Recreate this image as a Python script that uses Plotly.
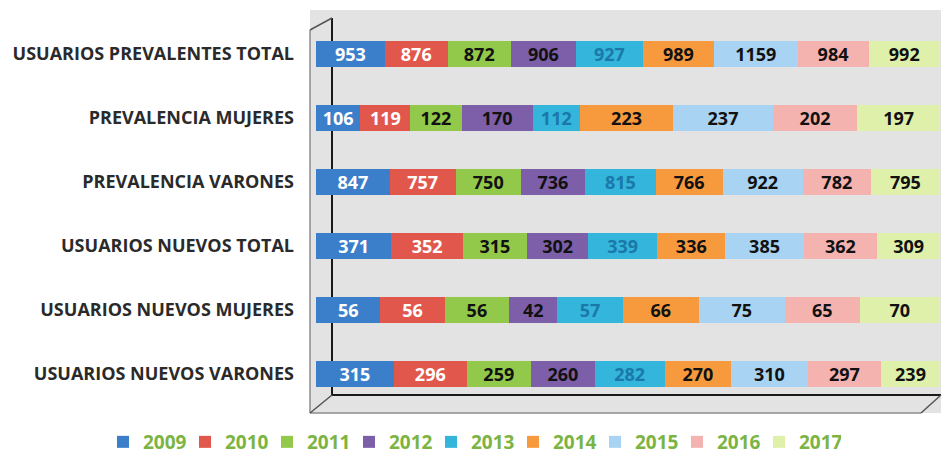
import plotly.graph_objects as go

categories = [
    "USUARIOS NUEVOS VARONES",
    "USUARIOS NUEVOS MUJERES",
    "USUARIOS NUEVOS TOTAL",
    "PREVALENCIA VARONES",
    "PREVALENCIA MUJERES",
    "USUARIOS PREVALENTES TOTAL",
]
years = ["2009", "2010", "2011", "2012", "2013", "2014", "2015", "2016", "2017"]

# values per year, in the order of categories (bottom to top)
v2009 = [315, 56, 371, 847, 106, 953]
v2010 = [296, 56, 352, 757, 119, 876]
v2011 = [259, 56, 315, 750, 122, 872]
v2012 = [260, 42, 302, 736, 170, 906]
v2013 = [282, 57, 339, 815, 112, 927]
v2014 = [270, 66, 336, 766, 223, 989]
v2015 = [310, 75, 385, 922, 237, 1159]
v2016 = [297, 65, 362, 782, 202, 984]
v2017 = [239, 70, 309, 795, 197, 992]
series = [v2009, v2010, v2011, v2012, v2013, v2014, v2015, v2016, v2017]

colors = ["#3b7fcb", "#e2574c", "#93c94a", "#7d5ea9", "#33b5dc",
          "#f79a3d", "#a9d3f2", "#f5b3b0", "#def0aa"]
label_colors = ["#ffffff", "#ffffff", "#111111", "#111111", "#1b78a8",
                "#111111", "#111111", "#111111", "#111111"]

LABEL_SIZE = 18

fig = go.Figure()
for yr, vals, c, lc in zip(years, series, colors, label_colors):
    fig.add_trace(go.Bar(
        y=categories, x=vals, name=yr, orientation="h",
        marker=dict(color=c, line=dict(width=0)),
        text=[str(v) for v in vals], textposition="inside",
        insidetextanchor="middle", textangle=0,
        textfont=dict(color=lc, size=LABEL_SIZE, family="Open Sans", weight="bold"),
        hoverinfo="skip",
    ))

L, R, T, B = 316, 3, 22, 48
W, H = 943, 454
pw, ph = W - L - R, H - T - B

def px(x):
    return (x - L) / pw

def py(y):
    return (H - B - y) / ph

shapes = [
    # background wall
    dict(type="rect", xref="paper", yref="paper", x0=px(310), x1=px(941), y0=py(413), y1=py(10),
         fillcolor="#e3e3e3", line=dict(width=0), layer="below"),
    # back wall frame
    dict(type="line", xref="paper", yref="paper", x0=px(332), x1=px(332), y0=py(395), y1=py(18),
         line=dict(color="#1a1a1a", width=2), layer="below"),
    dict(type="line", xref="paper", yref="paper", x0=px(332), x1=px(941), y0=py(395), y1=py(395),
         line=dict(color="#1a1a1a", width=2), layer="below"),
    # front frame
    dict(type="line", xref="paper", yref="paper", x0=px(310), x1=px(310), y0=py(413), y1=py(30),
         line=dict(color="#8c8c8c", width=1.5), layer="below"),
    dict(type="line", xref="paper", yref="paper", x0=px(310), x1=px(921), y0=py(413), y1=py(413),
         line=dict(color="#8c8c8c", width=1.5), layer="below"),
    # diagonals
    dict(type="line", xref="paper", yref="paper", x0=px(310), x1=px(332), y0=py(30), y1=py(18),
         line=dict(color="#555555", width=1.5), layer="below"),
    dict(type="line", xref="paper", yref="paper", x0=px(310), x1=px(332), y0=py(413), y1=py(395),
         line=dict(color="#555555", width=1.5), layer="below"),
    dict(type="line", xref="paper", yref="paper", x0=px(921), x1=px(941), y0=py(413), y1=py(395),
         line=dict(color="#555555", width=1.5), layer="below"),
]

fig.update_layout(
    width=W, height=H,
    margin=dict(l=L, r=R, t=T, b=B, autoexpand=False),
    barmode="stack", barnorm="percent", bargap=0.59,
    paper_bgcolor="#ffffff", plot_bgcolor="rgba(0,0,0,0)",
    shapes=shapes,
    uniformtext=dict(minsize=LABEL_SIZE, mode="show"),
    xaxis=dict(range=[0, 100], showgrid=False, showticklabels=False, zeroline=False,
               showline=False, fixedrange=True),
    yaxis=dict(showgrid=False, showline=False, ticks="", ticklabelstandoff=21,
               tickfont=dict(family="Open Sans", size=18, color="#2a2a2a", weight="bold")),
    legend=dict(orientation="h", xref="paper", yref="paper",
                x=px(103), xanchor="left", y=py(423), yanchor="top",
                font=dict(family="Open Sans", size=19, color="#7cb442", weight="bold"),
                itemwidth=30, entrywidth=37, entrywidthmode="pixels",
                tracegroupgap=0, traceorder="normal", bgcolor="rgba(0,0,0,0)"),
    showlegend=True,
)

fig.write_html("out.html", post_script="document.body.style.margin='0';",
               config={"displayModeBar": False})
